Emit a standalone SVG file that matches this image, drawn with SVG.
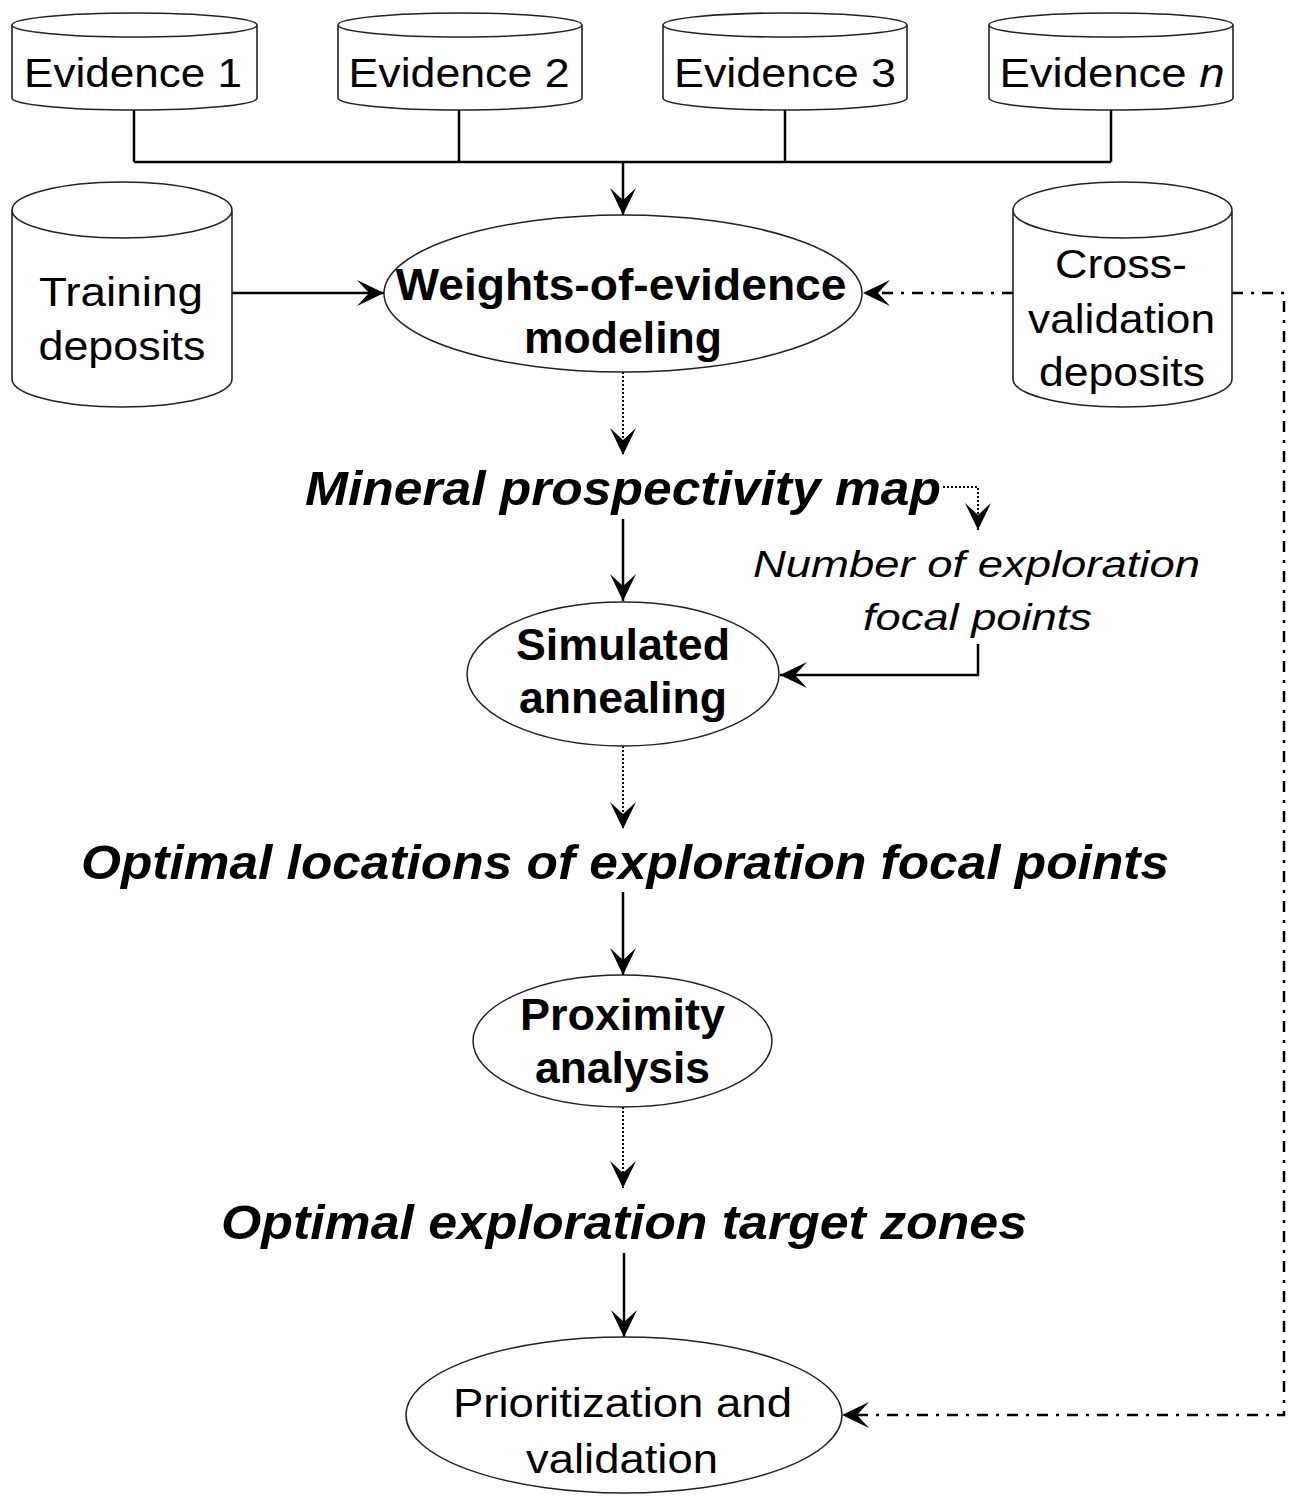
<svg xmlns="http://www.w3.org/2000/svg" width="1291" height="1500" viewBox="0 0 1291 1500">
<style>
.cyl{fill:#fff;stroke:#222;stroke-width:1.6}
.ell{fill:#fff;stroke:#222;stroke-width:1.5}
.t{font-family:"Liberation Sans",Arial,sans-serif;fill:#000;text-anchor:middle}
.reg{font-size:41px}
.it{font-size:37px;font-style:italic}
.b{font-size:45px;font-weight:bold}
.bi{font-size:49px;font-weight:bold;font-style:italic}
.c{fill:none;stroke:#000;stroke-width:2.5}
.dot{fill:none;stroke:#000;stroke-width:2;stroke-dasharray:2,2}
.dd{fill:none;stroke:#000;stroke-width:2.5;stroke-dasharray:11,8,3,8}
</style>
<defs>
<marker id="arr" viewBox="-30 -15 32 30" refX="0" refY="0" markerWidth="32" markerHeight="30" markerUnits="userSpaceOnUse" orient="auto">
<path d="M0,0 L-27,-13 L-15,0 L-27,13 Z" fill="#000"/>
</marker>
</defs>
<rect width="1291" height="1500" fill="#fff"/>
<g id="connectors">
<path class="c" d="M134,110 V162 M459,110 V162 M785,110 V162 M1111,110 V162 M134,162 H1111"/>
<path class="c" d="M623,162 V215" marker-end="url(#arr)"/>
<path class="c" d="M232,293 H384" marker-end="url(#arr)"/>
<path class="dd" d="M1013,293 H863" marker-end="url(#arr)"/>
<path class="dd" d="M1232,293 H1284 V1415 H842" marker-end="url(#arr)"/>
<path class="dot" d="M623,372 V455" marker-end="url(#arr)"/>
<path class="dot" d="M943,487 H978 V530" marker-end="url(#arr)"/>
<path class="c" d="M623,519 V601" marker-end="url(#arr)"/>
<path class="c" d="M978,644 V675 H780" marker-end="url(#arr)"/>
<path class="dot" d="M623,746 V829" marker-end="url(#arr)"/>
<path class="c" d="M623,892 V975" marker-end="url(#arr)"/>
<path class="dot" d="M623,1107 V1188" marker-end="url(#arr)"/>
<path class="c" d="M624,1253 V1337" marker-end="url(#arr)"/>
</g>
<g id="evidence1">
<path class="cyl" d="M12,25 A122.5,12 0 0 1 257,25 A122.5,12 0 0 1 12,25 L12,98 A122.5,12 0 0 0 257,98 L257,25"/>
<text class="t reg" x="133" y="87" textLength="218" lengthAdjust="spacingAndGlyphs">Evidence 1</text>
</g>
<g id="evidence2">
<path class="cyl" d="M338,25 A122,12 0 0 1 582,25 A122,12 0 0 1 338,25 L338,98 A122,12 0 0 0 582,98 L582,25"/>
<text class="t reg" x="459" y="87" textLength="221" lengthAdjust="spacingAndGlyphs">Evidence 2</text>
</g>
<g id="evidence3">
<path class="cyl" d="M663,25 A122,12 0 0 1 907,25 A122,12 0 0 1 663,25 L663,98 A122,12 0 0 0 907,98 L907,25"/>
<text class="t reg" x="785" y="87" textLength="222" lengthAdjust="spacingAndGlyphs">Evidence 3</text>
</g>
<g id="evidencen">
<path class="cyl" d="M989,25 A122,12 0 0 1 1233,25 A122,12 0 0 1 989,25 L989,98 A122,12 0 0 0 1233,98 L1233,25"/>
<text class="t reg" x="1112" y="87" textLength="225" lengthAdjust="spacingAndGlyphs">Evidence <tspan font-style="italic">n</tspan></text>
</g>
<g id="training">
<path class="cyl" d="M12,210 A110,28 0 0 1 232,210 A110,28 0 0 1 12,210 L12,379 A110,28 0 0 0 232,379 L232,210"/>
<text class="t reg" x="121" y="306" textLength="164" lengthAdjust="spacingAndGlyphs">Training</text>
<text class="t reg" x="122" y="360" textLength="167" lengthAdjust="spacingAndGlyphs">deposits</text>
</g>
<g id="crossval">
<path class="cyl" d="M1013,210 A109.5,28 0 0 1 1232,210 A109.5,28 0 0 1 1013,210 L1013,379 A109.5,28 0 0 0 1232,379 L1232,210"/>
<text class="t reg" x="1121" y="278" textLength="132" lengthAdjust="spacingAndGlyphs">Cross-</text>
<text class="t reg" x="1121.5" y="333" textLength="187" lengthAdjust="spacingAndGlyphs">validation</text>
<text class="t reg" x="1122" y="386" textLength="166" lengthAdjust="spacingAndGlyphs">deposits</text>
</g>
<g id="woe">
<ellipse class="ell" cx="623" cy="293.5" rx="239" ry="78.5"/>
<text class="t b" x="621" y="300" font-size="46" textLength="451" lengthAdjust="spacingAndGlyphs">Weights-of-evidence</text>
<text class="t b" x="623" y="353" font-size="46" textLength="198" lengthAdjust="spacingAndGlyphs">modeling</text>
</g>
<g id="mpm">
<text class="t bi" x="623" y="505" textLength="636" lengthAdjust="spacingAndGlyphs">Mineral prospectivity map</text>
</g>
<g id="numfp">
<text class="t it" x="976.5" y="577" textLength="447" lengthAdjust="spacingAndGlyphs">Number of exploration</text>
<text class="t it" x="977.5" y="630" textLength="229" lengthAdjust="spacingAndGlyphs">focal points</text>
</g>
<g id="sa">
<ellipse class="ell" cx="623" cy="674" rx="156" ry="72"/>
<text class="t b" x="623" y="660" textLength="214" lengthAdjust="spacingAndGlyphs">Simulated</text>
<text class="t b" x="623" y="713" textLength="208" lengthAdjust="spacingAndGlyphs">annealing</text>
</g>
<g id="olefp">
<text class="t bi" x="625" y="879" textLength="1088" lengthAdjust="spacingAndGlyphs">Optimal locations of exploration focal points</text>
</g>
<g id="pa">
<ellipse class="ell" cx="622.5" cy="1041" rx="149.5" ry="66"/>
<text class="t b" x="622.5" y="1030" textLength="205" lengthAdjust="spacingAndGlyphs">Proximity</text>
<text class="t b" x="622.5" y="1083" textLength="175" lengthAdjust="spacingAndGlyphs">analysis</text>
</g>
<g id="oetz">
<text class="t bi" x="624" y="1239" textLength="806" lengthAdjust="spacingAndGlyphs">Optimal exploration target zones</text>
</g>
<g id="prio">
<ellipse class="ell" cx="624" cy="1415" rx="218" ry="78"/>
<text class="t reg" x="622.5" y="1417" textLength="339" lengthAdjust="spacingAndGlyphs">Prioritization and</text>
<text class="t reg" x="622" y="1473" textLength="192" lengthAdjust="spacingAndGlyphs">validation</text>
</g>
</svg>
